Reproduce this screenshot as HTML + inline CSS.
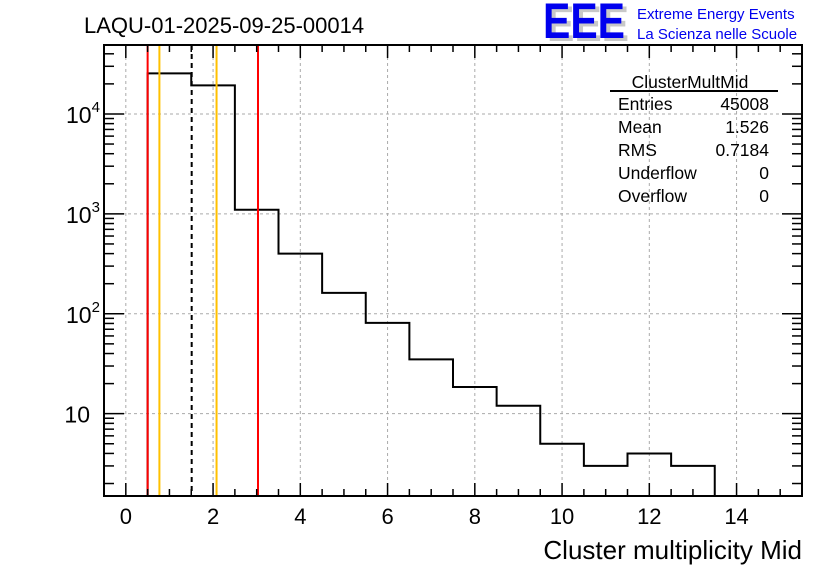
<!DOCTYPE html>
<html><head><meta charset="utf-8"><style>
body{margin:0;background:#fff}
svg{font-family:"Liberation Sans",sans-serif}
</style></head><body>
<svg id="c" width="836" height="572">
<rect width="836" height="572" fill="#fff"/>
<text x="84" y="33" font-size="22">LAQU-01-2025-09-25-00014</text>
<g>
<text x="547" y="41" font-size="50" font-weight="bold" fill="#c8c8c8" textLength="82" lengthAdjust="spacingAndGlyphs">EEE</text>
<text x="543" y="38" font-size="50" font-weight="bold" fill="#0000ee" textLength="82" lengthAdjust="spacingAndGlyphs">EEE</text>
<text x="637" y="19" font-size="15" fill="#0000ee">Extreme Energy Events</text>
<text x="637" y="39" font-size="15" fill="#0000ee">La Scienza nelle Scuole</text>
</g>
<g id="grid"></g>
<g id="marks"></g>
<g id="axes"></g>
<g font-size="17.5">
<text x="690" y="88" text-anchor="middle">ClusterMultMid</text>
<line x1="610" y1="91" x2="778" y2="91" stroke="#000" stroke-width="2"/>
<text x="618" y="110">Entries</text><text x="769" y="110" text-anchor="end">45008</text>
<text x="618" y="133">Mean</text><text x="769" y="133" text-anchor="end">1.526</text>
<text x="618" y="156">RMS</text><text x="769" y="156" text-anchor="end">0.7184</text>
<text x="618" y="179">Underflow</text><text x="769" y="179" text-anchor="end">0</text>
<text x="618" y="202">Overflow</text><text x="769" y="202" text-anchor="end">0</text>
</g>
<text x="802" y="559" font-size="26" text-anchor="end">Cluster multiplicity Mid</text>
</svg>
<script>
const binLow=[0.5,1.5,2.5,3.5,4.5,5.5,6.5,7.5,8.5,9.5,10.5,11.5,12.5];
const counts=[25500,19300,1100,400,162,81,35,18.5,12,5,3,4,3];
const xTicks=[0,2,4,6,8,10,12,14];
const yTicks=[10,100,1000,10000];
const yTickExp=["","2","3","4"];
const vlines=[{v:0.5,c:"#ff0000",d:""},{v:3.03,c:"#ff0000",d:""},{v:0.77,c:"#ffc000",d:""},{v:2.08,c:"#ffc000",d:""},{v:1.51,c:"#000",d:"5,4"}];
const L=104,R=802,T=45,B=496,xmin=-0.5,xmax=15.5,ymin=Math.log10(1.5),ymax=Math.log10(49000);
const X=v=>L+(v-xmin)/(xmax-xmin)*(R-L);
const Y=v=>B-(Math.log10(v)-ymin)/(ymax-ymin)*(B-T);
const NS="http://www.w3.org/2000/svg";
function mk(p,t,a){const e=document.createElementNS(NS,t);for(const k in a)e.setAttribute(k,a[k]);(typeof p==="string"?document.getElementById(p):p).appendChild(e);return e;}
xTicks.forEach(v=>{const e=mk("grid","line",{x1:X(v),x2:X(v),y1:T,y2:B,stroke:"#aaa","stroke-dasharray":"3,3"});

});
yTicks.forEach(v=>{const e=mk("grid","line",{x1:L,x2:R,y1:Y(v),y2:Y(v),stroke:"#aaa","stroke-dasharray":"3,3"});

});
let d="M"+X(binLow[0])+","+B;
binLow.forEach((lo,i)=>{d+=" L"+X(lo)+","+Y(counts[i])+" L"+X(lo+1)+","+Y(counts[i]);});
d+=" L"+X(binLow[binLow.length-1]+1)+","+B;
const h=mk("marks","path",{d:d,fill:"none",stroke:"#000","stroke-width":2});


vlines.forEach(o=>{const e=mk("marks","line",{x1:X(o.v),x2:X(o.v),y1:T,y2:B,stroke:o.c,"stroke-width":2,"stroke-dasharray":o.d});

});
const f=mk("axes","rect",{x:L,y:T,width:R-L,height:B-T,fill:"none",stroke:"#000","stroke-width":2});


for(let v=xmin;v<=xmax+1e-9;v+=0.5){const maj=Math.abs(v%2)<1e-9,len=maj?13:7;
mk("axes","line",{x1:X(v),x2:X(v),y1:B,y2:B-len,stroke:"#000","stroke-width":1.5});
mk("axes","line",{x1:X(v),x2:X(v),y1:T,y2:T+len,stroke:"#000","stroke-width":1.5});}
xTicks.forEach(v=>{const t=mk("axes","text",{x:X(v),y:B+28,"font-size":22,"text-anchor":"middle"});t.textContent=v;

});
for(let dec=0;dec<=4;dec++)for(let m=1;m<=9;m++){const v=m*Math.pow(10,dec);if(v<1.5||v>49000)continue;const len=m==1?20:10;
mk("axes","line",{x1:L,x2:L+len,y1:Y(v),y2:Y(v),stroke:"#000","stroke-width":1.5});
mk("axes","line",{x1:R,x2:R-len,y1:Y(v),y2:Y(v),stroke:"#000","stroke-width":1.5});}
yTicks.forEach((v,i)=>{const ex=yTickExp[i];
const t=mk("axes","text",{x:ex?L-38:L-14,y:Y(v)+9,"font-size":23,"text-anchor":ex?"start":"end"});


const b=mk(t,"tspan",{});b.textContent="10";
if(ex){const s=mk(t,"tspan",{dy:-11,"font-size":15});s.textContent=ex;}});
</script>
</body></html>
